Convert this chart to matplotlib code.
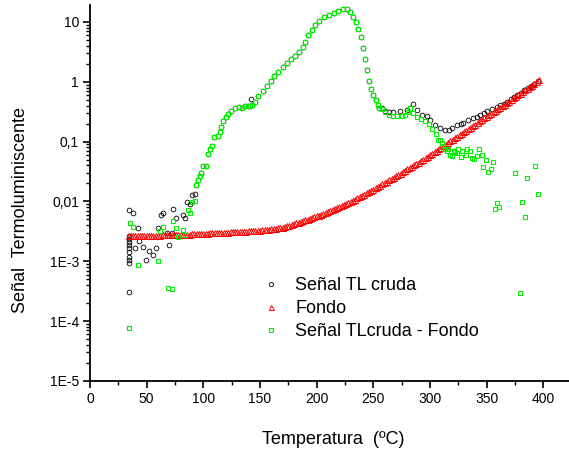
import numpy as np
import matplotlib
matplotlib.use("Agg")
import matplotlib.pyplot as plt
from matplotlib.ticker import FixedLocator, FixedFormatter, LogLocator, NullFormatter, MultipleLocator

plt.rcParams['font.family'] = ['Liberation Sans', 'DejaVu Sans']

# ---------------- data (log10 of signal) ----------------
# Background ("Fondo"), every 2 degC from 34 to 396
fondo_T = list(range(34, 397, 2))
fondo_log = [
    -2.578, -2.578, -2.577, -2.577, -2.576, -2.576, -2.575, -2.575, -2.574, -2.573,
    -2.573, -2.572, -2.571, -2.570, -2.569, -2.568, -2.567, -2.566, -2.565, -2.564,
    -2.563, -2.561, -2.560, -2.559, -2.557, -2.556, -2.554, -2.553, -2.551, -2.549,
    -2.547, -2.545, -2.543, -2.541, -2.539, -2.537, -2.535, -2.533, -2.531, -2.529,
    -2.527, -2.525, -2.523, -2.521, -2.519, -2.517, -2.515, -2.513, -2.511, -2.509,
    -2.507, -2.505, -2.503, -2.501, -2.499, -2.497, -2.495, -2.492, -2.489, -2.485,
    -2.481, -2.477, -2.473, -2.468, -2.462, -2.456, -2.450, -2.443, -2.436, -2.426,
    -2.415, -2.404, -2.393, -2.381, -2.368, -2.355, -2.342, -2.329, -2.316, -2.303,
    -2.290, -2.277, -2.264, -2.250, -2.236, -2.222, -2.208, -2.194, -2.180, -2.163,
    -2.146, -2.129, -2.112, -2.095, -2.077, -2.059, -2.041, -2.023, -2.005, -1.986,
    -1.967, -1.948, -1.929, -1.910, -1.888, -1.866, -1.844, -1.822, -1.800, -1.778,
    -1.756, -1.734, -1.712, -1.690, -1.668, -1.645, -1.623, -1.600, -1.578, -1.555,
    -1.533, -1.510, -1.488, -1.465, -1.442, -1.419, -1.396, -1.373, -1.350, -1.326,
    -1.301, -1.277, -1.252, -1.228, -1.202, -1.177, -1.151, -1.126, -1.100, -1.074,
    -1.048, -1.022, -0.996, -0.970, -0.944, -0.919, -0.893, -0.868, -0.842, -0.816,
    -0.791, -0.765, -0.740, -0.714, -0.688, -0.663, -0.637, -0.612, -0.586, -0.560,
    -0.535, -0.509, -0.484, -0.458, -0.432, -0.407, -0.381, -0.356, -0.330, -0.304,
    -0.277, -0.251, -0.224, -0.198, -0.171, -0.144, -0.116, -0.089, -0.062, -0.035,
    -0.008, 0.030,
]

# Raw TL signal, noisy low-temperature part
raw_low_T = [34, 34, 34, 34, 34, 34, 34, 34, 34, 34.7, 34.7, 37.6, 39.7, 42, 43.5,
             47.1, 49.4, 52.4, 55.9, 58.2, 60.3, 62.3, 64.1, 68.2, 70, 72.1, 73,
             75.6, 82.4, 83.8, 85.9, 88.2, 89.7, 92.4]
raw_low_log = [-2.58, -2.63, -2.68, -2.73, -2.78, -2.85, -2.92, -2.98, -3.03, -2.145,
               -3.505, -2.2, -2.78, -2.45, -2.66, -2.76, -2.97, -2.82, -2.89, -2.77,
               -2.44, -2.23, -2.19, -2.52, -2.72, -2.52, -2.12, -2.28, -2.22, -2.27,
               -2.01, -2.05, -1.9, -1.88]

# Glow peak region, where raw signal and net signal coincide
peak_T = [93.5, 95.6, 97.0, 98.2, 99.4, 102.4, 104.4, 106.0, 108.0, 109.6, 112.6,
          114.7, 115.5, 117.6, 119.7, 121.5, 124.5, 127.6, 131.3, 134.2, 136.5,
          139.1, 141.2, 142.6, 145.6, 148.5, 152.4, 155.9, 159.4, 162.4, 166.2,
          170.0, 173.5, 177.4, 180.9, 184.7, 187.6, 189.7, 192.6, 195.6, 198.5,
          202.4, 206.5, 210.9, 215.3, 219.1, 223.0, 226.5, 229.4, 231.8, 234.7,
          236.8, 238.9, 240.7, 242.6, 244.1, 246.2, 248.0, 250.0, 252.1, 253.8, 255.3]
peak_log = [-1.72, -1.64, -1.57, -1.52, -1.41, -1.41, -1.20, -1.13, -1.065, -0.915,
            -0.90, -0.835, -0.755, -0.658, -0.59, -0.535, -0.495, -0.44, -0.42, -0.44,
            -0.41, -0.41, -0.40, -0.38, -0.33, -0.24, -0.15, -0.067, 0.017, 0.09,
            0.16, 0.255, 0.32, 0.38, 0.43, 0.49, 0.58, 0.67, 0.78, 0.87, 0.95, 1.02,
            1.08, 1.12, 1.155, 1.19, 1.22, 1.22, 1.17, 1.09, 0.995, 0.88, 0.745, 0.57,
            0.38, 0.19, 0.005, -0.12, -0.22, -0.30, -0.38, -0.43]

# Raw TL signal, high-temperature tail
raw_high_T = [141.8, 257.4, 260.3, 264.1, 267.6, 273.5, 279.4, 282.4, 284.7, 288.2,
              292.6, 297, 300, 304.4, 308.8, 313.2, 316.5, 319.1, 323.5, 327,
              329.4, 333.8, 338.2, 341.5, 344.1, 347.5, 350, 354.4, 358.8, 362,
              365, 368, 371, 374, 377, 380, 383, 386, 389, 392, 395]
raw_high_log = [-0.283, -0.44, -0.49, -0.51, -0.51, -0.495, -0.467, -0.43, -0.367,
                -0.467, -0.55, -0.578, -0.633, -0.717, -0.772, -0.80, -0.80, -0.772,
                -0.717, -0.70, -0.69, -0.633, -0.605, -0.58, -0.55, -0.52, -0.495,
                -0.455, -0.42, -0.395, -0.365, -0.33, -0.295, -0.26, -0.22, -0.18,
                -0.145, -0.105, -0.07, -0.035, 0.02]

# Net signal (raw - background), noisy low-temperature part
net_low_T = [34.7, 35.3, 38.2, 42.4, 60.3, 61.8, 64.1, 68.5, 72.6, 73.2, 75.6,
             77.6, 82.1, 83.5, 86.5, 88.5, 90.3, 92.6]
net_low_log = [-4.117, -2.355, -2.43, -3.06, -3.0, -2.49, -2.42, -3.44, -3.46, -2.32,
               -2.44, -2.59, -2.47, -2.56, -2.15, -2.2, -2.01, -1.99]

# Net signal, high-temperature tail
net_high_T = [257.4, 260.3, 264.1, 267.6, 271.2, 275.0, 278.0, 280.9, 282.4, 285.3,
              288.8, 291.8, 295.6, 299.4, 301.5, 305.3, 307.4, 308.8, 310.3, 311.2,
              313.2, 314.7, 316.2, 317.6, 319.1, 321.2, 322.0, 323.5, 325.0, 327.0,
              327.9, 331.8, 332.9, 335.3, 336.8, 338.8, 341.2, 343.5, 345.6, 347.0,
              349.4, 351.4, 353.5, 355.3, 357.4, 359.4, 361.2, 375.3, 379.4, 381.5,
              383.5, 385.3, 392.6, 395.6]
net_high_log = [-0.455, -0.51, -0.55, -0.57, -0.57, -0.57, -0.55, -0.51, -0.44, -0.52,
                -0.58, -0.63, -0.66, -0.70, -0.79, -0.87, -0.97, -0.98, -1.02, -1.07,
                -1.13, -1.16, -1.12, -1.23, -1.245, -1.16, -1.18, -1.19, -1.12, -1.255,
                -1.16, -1.22, -1.12, -1.16, -1.27, -1.29, -1.245, -1.13, -1.23, -1.43,
                -1.30, -1.50, -1.45, -1.34, -2.13, -2.03, -2.09, -1.52, -3.53, -2.01,
                -2.26, -1.60, -1.40, -1.87]

ytick_vals = [1e-5, 1e-4, 1e-3, 1e-2, 1e-1, 1, 10]
ytick_labels = ["1E-5", "1E-4", "1E-3", "0,01", "0,1", "1", "10"]
xtick_vals = [0, 50, 100, 150, 200, 250, 300, 350, 400]

labels = ["Señal TL cruda", "Fondo", "Señal TLcruda - Fondo"]

# ---------------- plot ----------------
raw_T = np.array(raw_low_T + peak_T + raw_high_T)
raw_v = 10 ** np.array(raw_low_log + peak_log + raw_high_log)
net_T = np.array(net_low_T + peak_T + net_high_T)
net_v = 10 ** np.array(net_low_log + peak_log + net_high_log)
fon_T = np.array(fondo_T)
fon_v = 10 ** np.array(fondo_log)

fig = plt.figure(figsize=(5.69, 4.55), dpi=100)
ax = fig.add_axes([90 / 569, 1 - 381 / 455, 1 - 90 / 569, (381 - 5) / 455])

ax.plot(raw_T, raw_v, ls='none', marker='o', ms=3.4, mfc='none', mec='black', mew=0.6,
        label=labels[0])
ax.plot(fon_T, fon_v, ls='none', marker='^', ms=4.0, mfc='none', mec='#ff0000', mew=0.7,
        label=labels[1])
ax.plot(net_T, net_v, ls='none', marker='s', ms=3.1, mfc='none', mec='#00f000', mew=0.8,
        label=labels[2])

ax.set_yscale('log')
ax.set_xlim(0, 422.6)
ax.set_ylim(1e-5, 19.2)

ax.yaxis.set_major_locator(FixedLocator(ytick_vals))
ax.yaxis.set_major_formatter(FixedFormatter(ytick_labels))
ax.yaxis.set_minor_locator(LogLocator(base=10, subs=np.arange(2, 10), numticks=20))
ax.yaxis.set_minor_formatter(NullFormatter())
ax.xaxis.set_major_locator(FixedLocator(xtick_vals))
ax.xaxis.set_minor_locator(MultipleLocator(25))

for s in ['top', 'right']:
    ax.spines[s].set_visible(False)
for s in ['left', 'bottom']:
    ax.spines[s].set_linewidth(1.3)

ax.tick_params(which='major', direction='out', length=5, width=1.2, labelsize=10, pad=3)
ax.tick_params(which='minor', direction='out', length=3, width=1.0)

ax.set_xlabel("Temperatura  (ºC)", fontsize=13)
ax.set_ylabel("Señal  Termoluminiscente", fontsize=13)
ax.xaxis.set_label_coords((333 - 90) / 479, (381 - 431) / 376)
ax.yaxis.set_label_coords((29 - 90) / 479, (381 - 210) / 376)

leg = ax.legend(loc='upper left', bbox_to_anchor=(262 / 569, (455 - 277) / 455),
                bbox_transform=fig.transFigure, frameon=False, fontsize=13,
                borderpad=0, borderaxespad=0, handlelength=1.0, handletextpad=0.85,
                labelspacing=0.33, markerscale=0.9)

fig.savefig("out.png", dpi=100)
